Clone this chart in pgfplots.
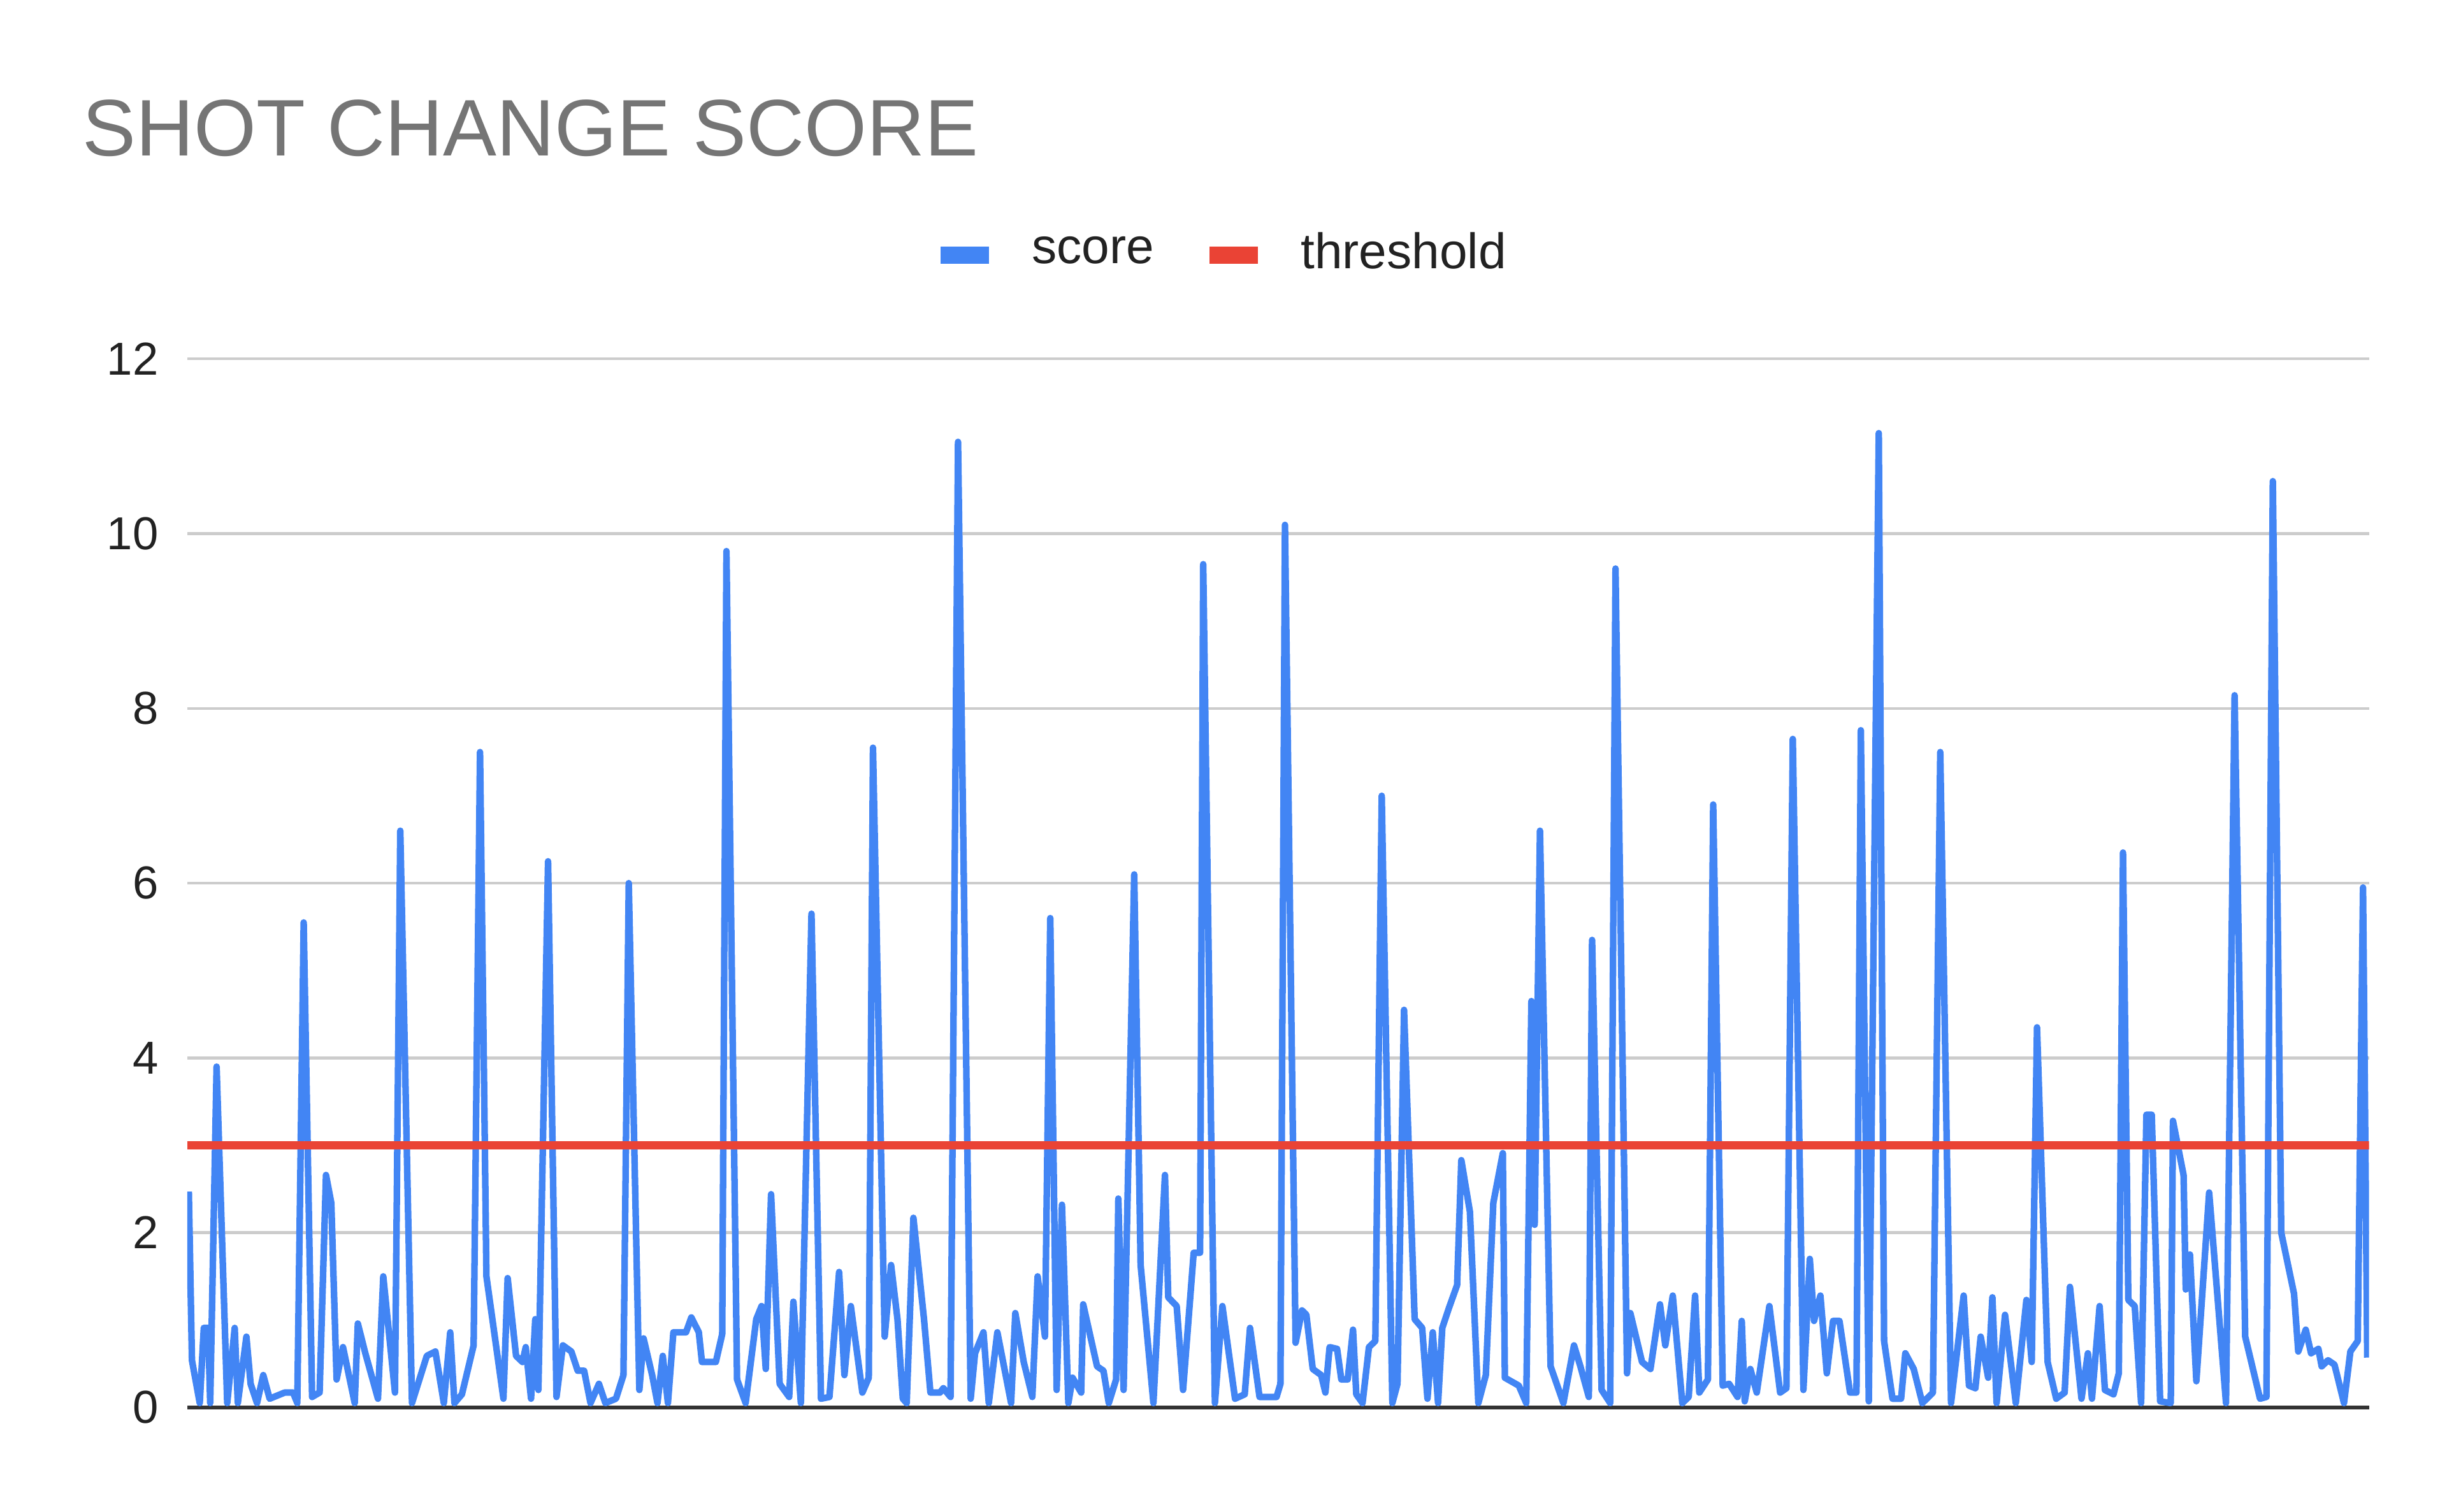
\documentclass[border=0pt]{standalone}
\usepackage{pgfplots}
\pgfplotsset{compat=1.18}
\usepackage{fontspec}
\setmainfont{Liberation Sans}
\definecolor{sblue}{HTML}{4285F4}
\definecolor{sred}{HTML}{EA4335}
\definecolor{gridc}{HTML}{CCCCCC}
\definecolor{titlec}{HTML}{757575}
\definecolor{textc}{HTML}{222222}
\pgfplotstableread{
x y
121 2.47
123 0.54
128 0.05
130.6 0.91
133.4 0.91
134.7 0.05
138.8 3.9
145.6 0.05
150.4 0.91
152.4 0.05
157.9 0.81
160.6 0.27
164.7 0.05
168.7 0.37
172.8 0.10
182.4 0.17
187.8 0.17
190.5 0.05
194.6 5.55
200 0.12
204.8 0.17
208.9 2.66
212.3 2.34
215.7 0.32
219.8 0.69
227.3 0.05
229.3 0.96
234.1 0.62
242.2 0.10
245.6 1.50
253.1 0.17
256.5 6.6
264 0.05
273.5 0.59
279 0.64
284.4 0.05
288.5 0.86
291.2 0.05
296 0.15
303.5 0.71
307.6 7.5
311.7 1.5
322.6 0.10
325.3 1.48
330.7 0.59
334.8 0.52
336.9 0.69
340.3 0.10
343 1.01
345 0.20
351.2 6.25
356.6 0.12
360.7 0.71
366.1 0.64
370.2 0.42
374.3 0.42
378.4 0.05
383.8 0.27
387.9 0.05
394.7 0.10
399.5 0.37
402.9 6.0
409.7 0.20
412.4 0.79
417.9 0.37
421.3 0.05
424.7 0.59
428 0.05
431.5 0.86
439.6 0.86
443 1.03
447.8 0.86
449.8 0.52
458.7 0.52
462.8 0.84
465.5 9.8
472.3 0.32
477.8 0.05
484.6 1.01
488 1.16
490.7 0.44
494.1 2.44
499.6 0.27
505.7 0.12
508.4 1.21
513.2 0.05
520 5.65
526.1 0.10
531.5 0.12
537.7 1.55
541.1 0.37
545.2 1.16
552.6 0.17
556.7 0.34
559.4 7.55
566.9 0.81
571 1.63
575.1 1.01
578.5 0.10
581 0.05
585.3 2.17
592.1 1.01
596.2 0.17
602.3 0.17
604.5 0.22
609.1 0.12
613.9 11.05
622 0.10
624.8 0.62
630.2 0.86
633.6 0.05
639.1 0.86
647.9 0.05
650.6 1.08
656 0.52
661.5 0.12
664.9 1.50
669.6 0.81
673 5.6
677.1 0.20
680.5 2.32
684.6 0.05
687.3 0.34
692.8 0.17
694.1 1.18
703 0.47
707.1 0.42
710.5 0.05
715.2 0.32
716.6 2.39
720 0.20
726.8 6.1
730.9 1.63
739.1 0.05
746.5 2.66
748.6 1.26
754 1.16
758.1 0.20
764.9 1.77
769 1.77
771 9.65
778.5 0.05
783.3 1.16
791.4 0.10
797.6 0.15
801 0.91
807.1 0.12
818 0.12
820.5 0.27
823.4 10.1
830.2 0.74
834.3 1.11
837.1 1.06
841.2 0.44
846.6 0.37
849.3 0.17
852 0.69
856.8 0.67
859.5 0.32
863.6 0.32
867 0.89
869.1 0.15
873.1 0.05
877.2 0.69
881.3 0.76
885.4 7.0
892.2 0.05
895.5 0.27
899.7 4.55
906.5 1.01
911.3 0.91
914.7 0.10
918.1 0.86
921.5 0.05
924.2 0.91
928.3 1.13
933.7 1.40
936.4 2.83
941.9 2.24
947.3 0.05
952.1 0.37
956.9 2.34
963 2.91
964.3 0.34
973.2 0.25
978 0.05
981.3 4.65
983.4 2.09
986.8 6.6
993.6 0.47
1001.8 0.05
1008.6 0.71
1012.7 0.47
1018.1 0.12
1020.2 5.35
1026.3 0.20
1031.8 0.05
1035.2 9.6
1042.6 0.39
1044.7 1.08
1052.2 0.52
1057.6 0.44
1063.7 1.18
1067.1 0.71
1071.9 1.28
1078 0.05
1082.1 0.12
1086.2 1.28
1088.9 0.17
1094.4 0.32
1097.8 6.9
1103.9 0.25
1108 0.27
1113.4 0.12
1116.1 0.99
1118 0.07
1121.6 0.44
1125.7 0.17
1133.8 1.16
1140.7 0.17
1144.7 0.22
1148.8 7.65
1155.6 0.20
1159.7 1.70
1162.4 0.99
1166.5 1.28
1170.6 0.39
1174.6 0.99
1178.7 0.99
1185.5 0.17
1189.6 0.17
1192.4 7.75
1197.5 0.07
1203.9 11.15
1207.3 0.76
1212.7 0.10
1218.2 0.10
1220.9 0.62
1226.3 0.44
1231.8 0.05
1238.6 0.17
1243.3 7.5
1250.2 0.05
1258.3 1.28
1261.7 0.25
1265.8 0.22
1269.2 0.81
1274 0.34
1276.7 1.26
1279.4 0.05
1284.8 1.06
1291.7 0.05
1298.5 1.23
1301.9 0.52
1305.3 4.35
1312.1 0.52
1317.6 0.10
1323 0.17
1326.4 1.38
1333.8 0.10
1337.9 0.62
1340.5 0.10
1345.4 1.16
1348.8 0.20
1354.3 0.15
1357.7 0.39
1360.4 6.35
1363.8 1.23
1367.9 1.16
1372 0.05
1375.4 3.35
1378.8 3.35
1384.2 0.07
1391 0.05
1392.4 3.28
1399.2 2.66
1400.6 1.35
1403.3 1.75
1407.4 0.30
1415.6 2.46
1426.4 0.05
1431.9 8.15
1438.7 0.81
1448.2 0.10
1452.3 0.12
1456.4 10.6
1461.8 2.0
1470 1.30
1472.7 0.64
1477.5 0.89
1480.9 0.62
1485.6 0.67
1487.7 0.47
1491.8 0.54
1495.9 0.49
1502 0.05
1506.1 0.64
1510.8 0.76
1514.2 5.95
1516.9 0.57
}\scoredata
\begin{document}
\begin{tikzpicture}
\path[use as bounding box] (-30pt,-16.75pt) rectangle (362pt,225.5pt);
\begin{axis}[
  name=ax, at={(0,0)}, anchor=south west,
  scale only axis, width=349.5pt, height=168pt,
  xmin=120, xmax=1518, ymin=0, ymax=12,
  ytick={0,2,...,12}, xtick=\empty,
  axis x line*=bottom, axis y line*=left,
  y axis line style={draw=none},
  x axis line style={draw=black!80, line width=0.6pt},
  major tick length=0pt,
  ymajorgrids, grid style={gridc, line width=0.45pt},
  /pgf/number format/assume math mode=true,
  yticklabel style={font=\fontsize{7.4}{8.9}\selectfont, text=textc, xshift=-1.1pt},
  legend style={at={(0.473,1.099)}, anchor=center, draw=none, fill=none,
    legend columns=-1, font=\fontsize{8}{9.6}\selectfont, text=textc,
    nodes={inner sep=0pt},
    /tikz/every odd column/.style={column sep=5.5pt},
    /tikz/every even column/.style={column sep=7.5pt}},
  legend image code/.code={\draw[line width=2.75pt] (0pt,0pt) -- (7.75pt,0pt);},
]
\addplot[sblue, line width=1.05pt, line join=round] table[x=x,y=y] {\scoredata};
\addlegendentry{score}
\addplot[sred, line width=1.3pt] coordinates {(120,3) (1518,3)};
\addlegendentry{threshold}
\end{axis}
\node[anchor=base west, text=titlec, font=\fontsize{12.85}{15.4}\selectfont, inner sep=0pt] at (-17pt,200.5pt) {SHOT CHANGE SCORE};
\end{tikzpicture}
\end{document}
